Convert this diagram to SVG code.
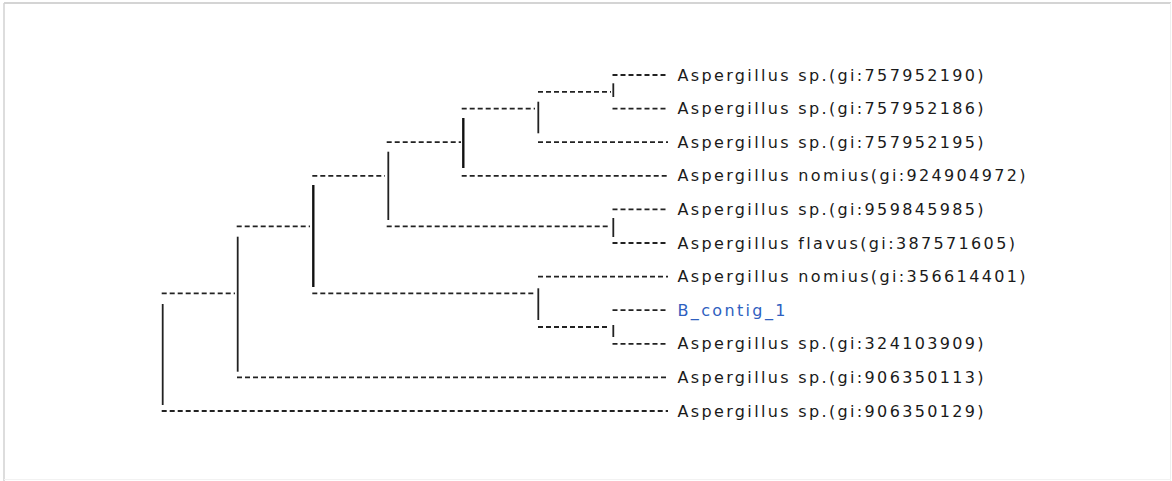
<svg xmlns="http://www.w3.org/2000/svg" width="1172" height="481" viewBox="0 0 1172 481">
<style>
.d{stroke:#222;stroke-width:1.8;stroke-dasharray:5 3;fill:none}
.v{stroke:#222;stroke-width:1.8;fill:none}
.vb{stroke:#111;stroke-width:2.4;fill:none}
.t{font-family:"DejaVu Sans",Verdana,sans-serif;font-size:16px;letter-spacing:2.35px;fill:#1a1a1a}
.b{fill:#2f5fbf}
</style>
<rect width="1172" height="481" fill="#fff"/>
<g id="frame">
<line x1="4" y1="3" x2="1171" y2="3" stroke="#c6c6c6" stroke-width="1.5"/>
<line x1="4" y1="3" x2="4" y2="481" stroke="#d2d2d2" stroke-width="1.5"/>
<line x1="1170.5" y1="3" x2="1170.5" y2="481" stroke="#eeeeee" stroke-width="1"/>
<line x1="4" y1="479.5" x2="1171" y2="479.5" stroke="#f2f2f2" stroke-width="1"/>
</g>
<g id="connectors">
<line class="d" x1="538" y1="91.8" x2="611" y2="91.8"/>
<line class="d" x1="461.7" y1="108.6" x2="535" y2="108.6"/>
<line class="d" x1="386.7" y1="142.2" x2="461" y2="142.2"/>
<line class="d" x1="312.3" y1="175.8" x2="385" y2="175.8"/>
<line class="d" x1="386.7" y1="226.4" x2="610" y2="226.4"/>
<line class="d" x1="236.7" y1="226.4" x2="310" y2="226.4"/>
<line class="d" x1="312.3" y1="293.4" x2="535" y2="293.4"/>
<line class="d" x1="538" y1="327" x2="610" y2="327"/>
<line class="d" x1="161.7" y1="293.4" x2="235" y2="293.4"/>
<line class="d" x1="612.5" y1="75" x2="668" y2="75"/>
<line class="d" x1="612.5" y1="108.6" x2="668" y2="108.6"/>
<line class="d" x1="538" y1="142.2" x2="668" y2="142.2"/>
<line class="d" x1="461.7" y1="175.8" x2="668" y2="175.8"/>
<line class="d" x1="612.5" y1="209.4" x2="668" y2="209.4"/>
<line class="d" x1="612.5" y1="243" x2="668" y2="243"/>
<line class="d" x1="538" y1="276.6" x2="668" y2="276.6"/>
<line class="d" x1="612.5" y1="310.2" x2="668" y2="310.2"/>
<line class="d" x1="612.5" y1="343.8" x2="668" y2="343.8"/>
<line class="d" x1="237" y1="377.4" x2="668" y2="377.4"/>
<line class="d" x1="161.7" y1="411" x2="668" y2="411"/>
<line class="v" x1="613.3" y1="83.3" x2="613.3" y2="97"/>
<line class="v" x1="538.3" y1="101.7" x2="538.3" y2="133.3"/>
<line class="vb" x1="463.3" y1="118" x2="463.3" y2="168"/>
<line class="v" x1="388.3" y1="151.7" x2="388.3" y2="220"/>
<line class="v" x1="613.3" y1="218" x2="613.3" y2="237"/>
<line class="vb" x1="313.3" y1="185" x2="313.3" y2="287"/>
<line class="v" x1="538.3" y1="288.3" x2="538.3" y2="320"/>
<line class="v" x1="613.3" y1="325" x2="613.3" y2="337"/>
<line class="v" x1="237.7" y1="236.7" x2="237.7" y2="371.7"/>
<line class="v" x1="162.7" y1="304" x2="162.7" y2="405"/>
</g>
<g id="leaf1"><text class="t" x="677.5" y="80.5">Aspergillus sp.(gi:757952190)</text></g>
<g id="leaf2"><text class="t" x="677.5" y="114.1">Aspergillus sp.(gi:757952186)</text></g>
<g id="leaf3"><text class="t" x="677.5" y="147.7">Aspergillus sp.(gi:757952195)</text></g>
<g id="leaf4"><text class="t" x="677.5" y="181.3">Aspergillus nomius(gi:924904972)</text></g>
<g id="leaf5"><text class="t" x="677.5" y="214.9">Aspergillus sp.(gi:959845985)</text></g>
<g id="leaf6"><text class="t" x="677.5" y="248.5">Aspergillus flavus(gi:387571605)</text></g>
<g id="leaf7"><text class="t" x="677.5" y="282.1">Aspergillus nomius(gi:356614401)</text></g>
<g id="leaf8"><text class="t b" x="677.5" y="315.7">B_contig_1</text></g>
<g id="leaf9"><text class="t" x="677.5" y="349.3">Aspergillus sp.(gi:324103909)</text></g>
<g id="leaf10"><text class="t" x="677.5" y="382.9">Aspergillus sp.(gi:906350113)</text></g>
<g id="leaf11"><text class="t" x="677.5" y="416.5">Aspergillus sp.(gi:906350129)</text></g>
</svg>
